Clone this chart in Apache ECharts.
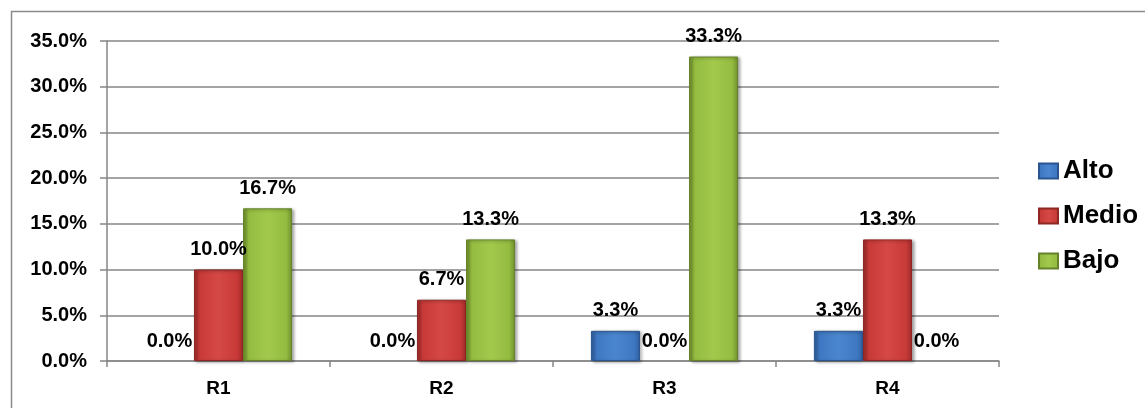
<!DOCTYPE html>
<html>
<head>
<meta charset="utf-8">
<script src="https://cdn.jsdelivr.net/npm/echarts@6/dist/echarts.min.js"></script>
<style>
  html, body { margin: 0; padding: 0; background: #fff; }
  #chart { width: 1145px; height: 408px; }
</style>
</head>
<body>
<div id="chart"></div>
<script>
const categories = ['R1', 'R2', 'R3', 'R4'];
const seriesNames = ['Alto', 'Medio', 'Bajo'];
const alto = [0.0, 0.0, 3.3, 3.3];
const medio = [10.0, 6.7, 0.0, 13.3];
const bajo = [16.7, 13.3, 33.3, 0.0];
const yTicks = { min: 0, max: 35, interval: 5 };

const FONT = '"Liberation Sans", Arial, sans-serif';

function grad(dark, mid, light) {
  return {
    type: 'linear', x: 0, y: 0, x2: 1, y2: 0,
    colorStops: [
      { offset: 0, color: dark },
      { offset: 0.12, color: mid },
      { offset: 0.5, color: light },
      { offset: 0.88, color: mid },
      { offset: 1, color: dark }
    ]
  };
}

const styles = [
  { color: grad('#2f5f9e', '#3f78c2', '#4a86cf'), legend: '#3f78c2', border: '#2a5590' },
  { color: grad('#9e2a28', '#c83a38', '#d44846'), legend: '#c83a38', border: '#8e2624' },
  { color: grad('#6f8f2c', '#94bc40', '#a2c94c'), legend: '#94bc40', border: '#65822a' }
];

const dataSets = [alto, medio, bajo];

const series = dataSets.map((d, i) => ({
  name: seriesNames[i],
  type: 'bar',
  data: d.map(v => v === 0
    ? { value: v, itemStyle: { borderWidth: 0, shadowBlur: 0, shadowOffsetX: 0, shadowOffsetY: 0, shadowColor: 'transparent' } }
    : v),
  barGap: '0%',
  barCategoryGap: '34%',
  itemStyle: {
    color: styles[i].color,
    borderColor: styles[i].border,
    borderWidth: 1,
    shadowColor: 'rgba(0,0,0,0.35)',
    shadowBlur: 3,
    shadowOffsetX: 2,
    shadowOffsetY: 1
  },
  label: {
    show: true,
    position: 'top',
    distance: 10,
    formatter: p => p.value.toFixed(1) + '%',
    color: '#000',
    fontFamily: FONT,
    fontWeight: 'bold',
    fontSize: 20
  }
}));

const chart = echarts.init(document.getElementById('chart'), null, { renderer: 'canvas' });
chart.setOption({
  animation: false,
  backgroundColor: '#fff',
  color: styles.map(s => s.legend),
  graphic: [{
    type: 'rect',
    shape: { x: 11.5, y: 11.5, width: 1300, height: 600 },
    style: { fill: 'none', stroke: '#8a8a8a', lineWidth: 1.5 },
    silent: true,
    z: -10
  }],
  grid: { left: 107, top: 41, right: 146, bottom: 47, containLabel: false },
  legend: {
    orient: 'vertical',
    left: 1033,
    top: 153,
    itemWidth: 19,
    itemHeight: 15,
    itemGap: 19,
    icon: 'rect',
    textStyle: { fontFamily: FONT, fontWeight: 'bold', fontSize: 26, color: '#000' },
    data: seriesNames
  },
  xAxis: {
    type: 'category',
    data: categories,
    axisLine: { lineStyle: { color: '#868686', width: 1.5 } },
    axisTick: { show: true, length: 6, lineStyle: { color: '#868686', width: 1.5 } },
    axisLabel: { margin: 18, color: '#000', fontFamily: FONT, fontWeight: 'bold', fontSize: 19 }
  },
  yAxis: {
    type: 'value',
    min: yTicks.min,
    max: yTicks.max,
    interval: yTicks.interval,
    axisLine: { show: true, lineStyle: { color: '#868686', width: 1.5 } },
    axisTick: { show: true, length: 7, lineStyle: { color: '#868686', width: 1.5 } },
    splitLine: { show: true, lineStyle: { color: '#868686', width: 1.5 } },
    axisLabel: {
      margin: 20,
      color: '#000',
      fontFamily: FONT,
      fontWeight: 'bold',
      fontSize: 20,
      formatter: v => v.toFixed(1) + '%'
    }
  },
  series: series
});
</script>
</body>
</html>
